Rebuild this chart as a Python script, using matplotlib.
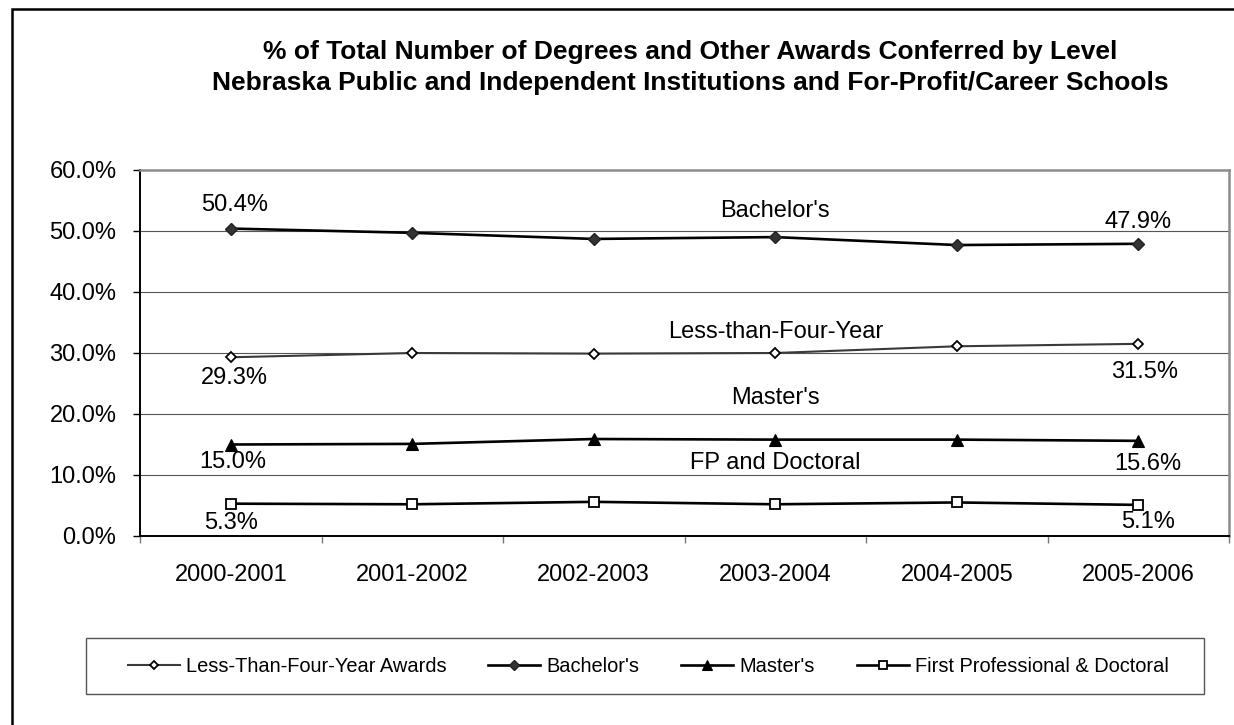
import matplotlib.pyplot as plt
from matplotlib.patches import Rectangle
from matplotlib.ticker import FixedLocator, FuncFormatter

plt.rcParams['font.family'] = ['Liberation Sans', 'DejaVu Sans']

# Share of degrees conferred by level (%), Nebraska
years = ['2000-2001', '2001-2002', '2002-2003', '2003-2004', '2004-2005', '2005-2006']
less_than_four = [29.3, 30.0, 29.9, 30.0, 31.1, 31.5]
bachelors = [50.4, 49.7, 48.7, 49.0, 47.7, 47.9]
masters = [15.0, 15.1, 15.9, 15.8, 15.8, 15.6]
fp_doctoral = [5.3, 5.2, 5.6, 5.2, 5.5, 5.1]

legend_names = ["Less-Than-Four-Year Awards", "Bachelor's", "Master's",
                "First Professional & Doctoral"]
series_names = ["Less-than-Four-Year", "Bachelor's", "Master's", "FP and Doctoral"]

W, H = 1234, 725
FS = 17
fig = plt.figure(figsize=(W / 100, H / 100), dpi=100)
fig.patch.set_facecolor('white')

# outer frame (right/bottom run off the page)
fig.patches.append(Rectangle((11.5 / W, -0.2), 1.5, 1.2 - 8.5 / H,
                             transform=fig.transFigure, fill=False,
                             edgecolor='black', linewidth=1.8))

ax = fig.add_axes([140 / W, 1 - 536 / H, (1229 - 140) / W, (536 - 170) / H])
x = list(range(len(years)))

styles = [
    (less_than_four, dict(color='#3a3a3a', lw=1.5, marker='D', ms=5.0,
                          mfc='white', mec='black', mew=1.3)),
    (bachelors, dict(color='black', lw=1.9, marker='D', ms=6.2,
                     mfc='#333333', mec='#222222', mew=1.0)),
    (masters, dict(color='black', lw=1.9, marker='^', ms=8.8,
                   mfc='black', mec='black', mew=0.8)),
    (fp_doctoral, dict(color='black', lw=1.9, marker='s', ms=7.4,
                       mfc='white', mec='black', mew=1.3)),
]
handles = []
for (vals, kw), name in zip(styles, legend_names):
    h, = ax.plot(x, vals, label=name, zorder=3, **kw)
    handles.append(h)

ax.set_xlim(-0.5, len(years) - 0.5)
ax.set_ylim(0, 60)

# gridlines
ax.yaxis.set_major_locator(FixedLocator([0, 10, 20, 30, 40, 50, 60]))
ax.yaxis.set_major_formatter(FuncFormatter(lambda v, p: f'{v:.1f}%'))
ax.grid(axis='y', color='#555555', linewidth=0.8, zorder=1)
ax.set_axisbelow(True)

ax.set_xticks(x)
ax.set_xticklabels(years)
ax.set_xticks([i - 0.5 for i in range(len(years) + 1)], minor=True)
ax.tick_params(axis='x', which='major', length=0, pad=20, labelsize=FS)
ax.tick_params(axis='x', which='minor', length=5, width=1, color='#777777',
               direction='out')
ax.tick_params(axis='y', length=5, width=1, color='black', pad=12,
               labelsize=FS)

for side in ['top', 'right']:
    ax.spines[side].set_color('#8c8c8c')
    ax.spines[side].set_linewidth(1.8)
for side in ['left', 'bottom']:
    ax.spines[side].set_color('black')
    ax.spines[side].set_linewidth(1.4)

# first/last value labels
def label(val, i, dx, dy):
    ax.annotate(f'{val:.1f}%', (i, val), xytext=(dx, dy),
                textcoords='offset pixels', ha='center', va='center',
                fontsize=FS)

last = len(years) - 1
label(bachelors[0], 0, 4, 24)
label(bachelors[last], last, 0, 22)
label(less_than_four[0], 0, 4, -21)
label(less_than_four[last], last, 6, -28)
label(masters[0], 0, 2, -18)
label(masters[last], last, 10, -23)
label(fp_doctoral[0], 0, 0, -19)
label(fp_doctoral[last], last, 10, -17)

# series names above the 2003-2004 points
mid = 3
for vals, name, dy in [(bachelors, series_names[1], 26),
                       (less_than_four, series_names[0], 21),
                       (masters, series_names[2], 42),
                       (fp_doctoral, series_names[3], 41)]:
    ax.annotate(name, (mid, vals[mid]), xytext=(0, dy),
                textcoords='offset pixels', ha='center', va='center',
                fontsize=FS)

fig.text(690 / W, 1 - 52 / H,
         '% of Total Number of Degrees and Other Awards Conferred by Level',
         ha='center', va='center', fontsize=19, fontweight='bold')
fig.text(690 / W, 1 - 83 / H,
         'Nebraska Public and Independent Institutions and For-Profit/Career Schools',
         ha='center', va='center', fontsize=19, fontweight='bold')

# legend box drawn separately so it can be wider than the entries
fig.patches.append(Rectangle((86 / W, 1 - 694 / H), (1204 - 86) / W, 56 / H,
                             transform=fig.transFigure, fill=False,
                             edgecolor='#555555', linewidth=1.0))
leg = fig.legend(handles=handles, loc='center', ncol=4,
                 bbox_to_anchor=(648 / W, 1 - 666 / H), fontsize=14.4,
                 frameon=False, handlelength=2.6, handletextpad=0.3,
                 columnspacing=2.1, markerscale=0.75)

fig.savefig('out.png', dpi=100)
